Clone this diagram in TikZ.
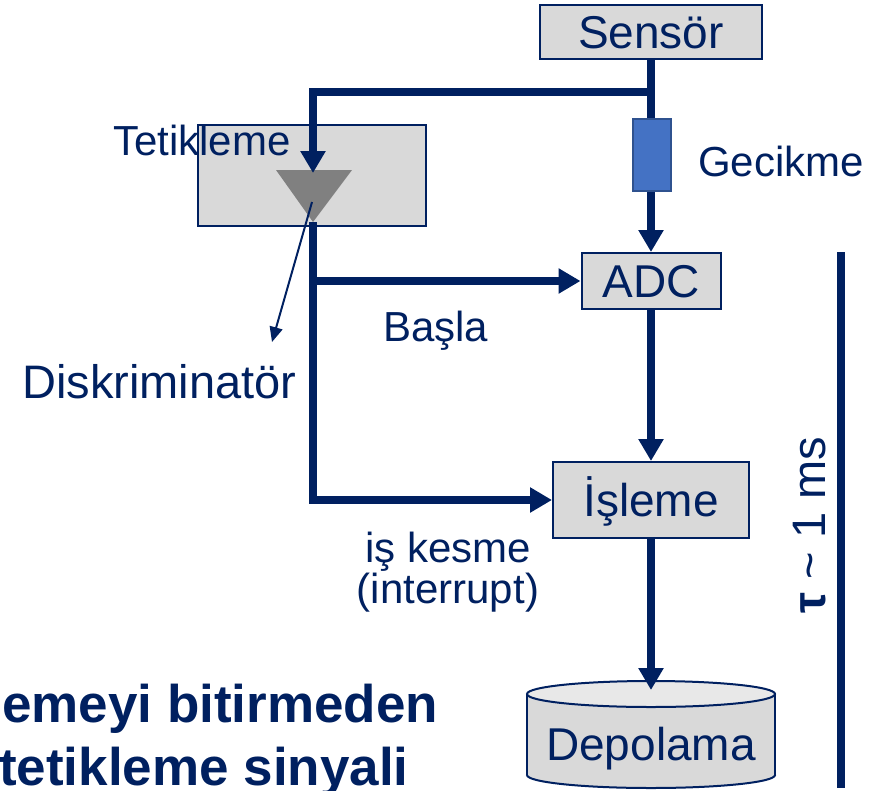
\documentclass[tikz,border=0pt]{standalone}
\usepackage{fontspec}
\setmainfont{Liberation Sans}
\usetikzlibrary{arrows.meta}
\definecolor{navy}{RGB}{0,32,96}
\definecolor{boxgray}{RGB}{217,217,217}
\definecolor{geckblue}{RGB}{68,114,196}
\definecolor{geckedge}{RGB}{47,82,143}
\definecolor{trigray}{RGB}{128,128,128}
\definecolor{toplight}{RGB}{232,232,232}
\begin{document}
\begin{tikzpicture}[x=1pt,y=-1pt,
  box/.style={draw=navy, line width=2pt, fill=boxgray, text=navy,
    font=\fontsize{46}{50}\selectfont, text height=33pt, text depth=0pt, inner sep=0pt},
  conn/.style={draw=navy, line width=8pt},
  arr/.style={conn, -{Triangle[length=22pt,width=24pt]}},
  lbl/.style={text=navy, font=\fontsize{42}{46}\selectfont, inner sep=0pt, anchor=base west},
]
\useasboundingbox (0,0) rectangle (870,790);
\clip (0,0) rectangle (870,790);

% boxes
\node[box, minimum width=222pt, minimum height=54pt] (sensor) at (651,32) {Sensör};
\node[draw=navy, line width=2pt, fill=boxgray, minimum width=228pt, minimum height=101pt, inner sep=0pt] (trig) at (312,175.5) {};
\fill[trigray] (276,170) -- (352,170) -- (313,222) -- cycle;
\coordinate (trigin) at (313,173);
\coordinate (trigout) at (313,222);
\node[lbl] (tetlbl) at (113,155) {Tetikleme};

\node[box, minimum width=139pt, minimum height=56pt] (adc) at (651,281) {ADC};
\node[box, minimum width=196pt, minimum height=76pt] (isl) at (651,500) {İşleme};

% storage cylinder
\filldraw[fill=boxgray, draw=navy, line width=2pt] (651,775) ellipse [x radius=124pt, y radius=13pt];
\fill[boxgray] (527,694) rectangle (775,775);
\draw[navy, line width=2pt] (527,694) -- (527,775) (775,694) -- (775,775);
\filldraw[fill=toplight, draw=navy, line width=2pt] (651,694) ellipse [x radius=124pt, y radius=13pt];
\node[text=navy, font=\fontsize{46}{50}\selectfont, text height=33pt, text depth=0pt, inner sep=0pt] (depo) at (651,744) {Depolama};
\coordinate (depotop) at (651,690);

% connectors
\coordinate (branch) at (651,92);
\draw[arr] (sensor.south) -- (adc.north);
\draw[arr] (branch) -| (trigin);
\node[draw=geckedge, line width=1.5pt, fill=geckblue, minimum width=38pt, minimum height=72pt, inner sep=0pt] (geck) at (652,155) {};
\draw[arr] (trigout) |- (isl.west);
\draw[arr] (trigout |- adc.west) -- (adc.west);
\draw[arr] (adc.south) -- (isl.north);
\draw[arr] (isl.south) -- (depotop);

% discriminator pointer
\coordinate (dstart) at (312,202);
\coordinate (dend) at (272,342);
\draw[navy, line width=2pt, -{Triangle[length=15pt,width=13pt]}] (dstart) -- (dend);

% labels
\node[lbl, font=\fontsize{47}{50}\selectfont] (diskr) at (22,398) {Diskriminatör};
\node[lbl] (geckl) at (698,176) {Gecikme};
\node[lbl] (basla) at (383,341) {Başla};
\node[lbl, anchor=base] (kesme1) at (448,562) {iş kesme};
\node[lbl, anchor=base] (kesme2) at (448,603) {(interrupt)};

% time bar
\draw[conn] (841,252) -- (841,788);
\node[text=navy, font=\fontsize{47}{50}\selectfont, rotate=90, anchor=base, inner sep=0pt] (tau) at (825,525) {\textbf{τ} \textasciitilde{} 1 ms};

% bottom text
\node[anchor=base west, text=navy, font=\fontsize{53}{60}\selectfont\bfseries, inner sep=0pt] (bt1) at (2,722) {emeyi bitirmeden};
\node[anchor=base west, text=navy, font=\fontsize{53}{60}\selectfont\bfseries, inner sep=0pt] (bt2) at (-1,785) {tetikleme sinyali};
\end{tikzpicture}
\end{document}
